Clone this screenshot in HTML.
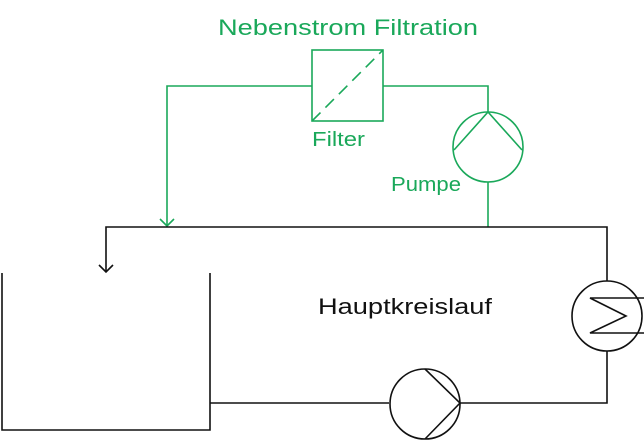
<!DOCTYPE html>
<html><head><style>html,body{margin:0;padding:0;background:#fff}</style></head><body>
<svg width="644" height="441" xmlns="http://www.w3.org/2000/svg" style="display:block">
<g fill="none" stroke="#1aa85a" stroke-width="1.6">
<rect x="312" y="50" width="71" height="71"/>
<line x1="312" y1="121" x2="383" y2="50" stroke-dasharray="12,7"/>
<polyline points="312,86 167,86 167,226"/>
<polyline points="160,219 167,226 174,219"/>
<polyline points="383,86 488,86 488,112"/>
<circle cx="488" cy="147" r="35"/>
<polyline points="454,150 488,112 522,150"/>
<line x1="488" y1="182" x2="488" y2="227"/>
</g>
<g fill="#1aa85a" font-family="'Liberation Sans',sans-serif">
<text x="218" y="35" font-size="22" textLength="260" lengthAdjust="spacingAndGlyphs">Nebenstrom Filtration</text>
<text x="312" y="146" font-size="20" textLength="53" lengthAdjust="spacingAndGlyphs">Filter</text>
<text x="391" y="191" font-size="20" textLength="70" lengthAdjust="spacingAndGlyphs">Pumpe</text>
</g>
<g fill="none" stroke="#111" stroke-width="1.6">
<polyline points="106,272 106,227 607,227 607,281"/>
<polyline points="99,265 106,272 113,265"/>
<polyline points="2,273 2,430 210,430 210,273"/>
<line x1="210" y1="403" x2="389" y2="403"/>
<circle cx="425" cy="404" r="35"/>
<polyline points="425,369 460,403 425,439"/>
<polyline points="460,403 607,403 607,351"/>
<circle cx="607" cy="316" r="35"/>
<polyline points="644,298 590,298 626,316 590,333 644,333"/>
</g>
<text x="318" y="314" font-family="'Liberation Sans',sans-serif" font-size="22" fill="#111" textLength="174" lengthAdjust="spacingAndGlyphs">Hauptkreislauf</text>
</svg>
</body></html>
